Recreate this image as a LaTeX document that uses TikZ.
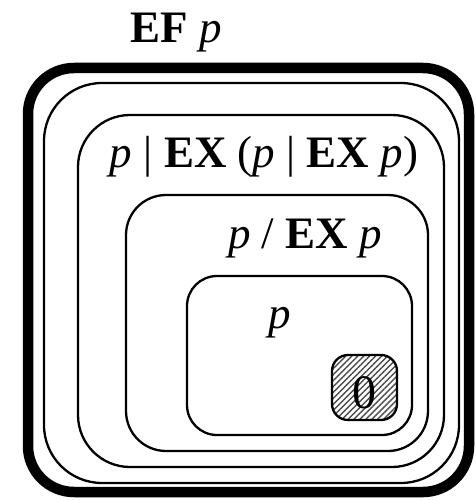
\documentclass[tikz,border=0pt]{standalone}
\usepackage{fontspec}
\setmainfont{Liberation Serif}
\usepackage{tikz}
\usetikzlibrary{patterns.meta}
\newcommand{\prop}{\textit{p}}
\newcommand{\op}[1]{\textbf{#1}}

\begin{document}
\begin{tikzpicture}[x=1pt,y=-1pt,line join=round,
    setbox/.style={line width=2.3pt},
    lab/.style={anchor=base,font=\fontsize{45}{45}\selectfont}]
  \useasboundingbox (0,0) rectangle (475,500);
  % outermost set: EF p
  \draw[line width=10.5pt,rounded corners=46pt] (28,68) rectangle (469,492);
  \node[lab] (ef) at (176,43) {\op{EF} \prop};
  % nested approximations
  \draw[setbox,rounded corners=58pt] (44,83) rectangle (459,483);
  \draw[setbox,rounded corners=52pt] (78,115) rectangle (444,467);
  \node[lab] (ex2) at (264,167) {\prop\ | \op{EX} (\prop\ | \op{EX} \prop)};
  \draw[setbox,rounded corners=40pt] (126,195) rectangle (428,451);
  \node[lab] (ex1) at (305,248) {\prop\ / \op{EX} \prop};
  \draw[setbox,rounded corners=30pt] (187,276) rectangle (412,435);
  \node[lab] (p) at (280,328) {\prop};
  % state 0
  \draw[setbox,rounded corners=16pt,pattern={Lines[angle=45,distance=4.2pt,line width=1.4pt]},pattern color=black!70] (332,355) rectangle (397,420);
  \node[anchor=base,font=\fontsize{48}{48}\selectfont] (s0) at (364,408) {0};
\end{tikzpicture}
\end{document}
